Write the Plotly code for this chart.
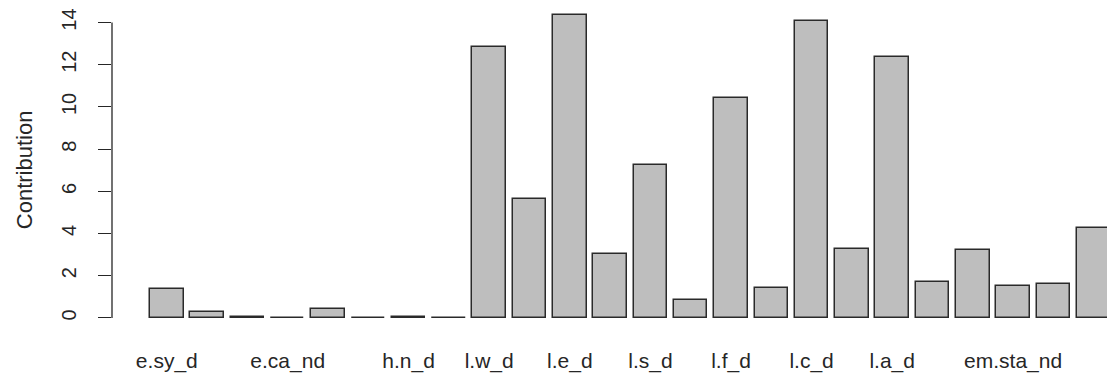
import plotly.graph_objects as go

# Contribution of each variable, in plotting order
positions = list(range(1, 25))
contribution = [1.38, 0.26, 0.06, 0.01, 0.40, 0.01, 0.06, 0.01,
                12.83, 5.62, 14.35, 3.01, 7.25, 0.84, 10.43, 1.44,
                14.08, 3.27, 12.39, 1.69, 3.21, 1.50, 1.63, 4.24]

# Names printed under the bars
label_positions = [1, 4, 7, 9, 11, 13, 15, 17, 19, 22]
label_text = ["e.sy_d", "e.ca_nd", "h.n_d", "l.w_d", "l.e_d",
              "l.s_d", "l.f_d", "l.c_d", "l.a_d", "em.sta_nd"]

y_ticks = [0, 2, 4, 6, 8, 10, 12, 14]

font_family = "Liberation Sans, Arial, sans-serif"
ink = "#262626"

fig = go.Figure(
    go.Bar(
        x=positions,
        y=contribution,
        width=0.833,
        marker=dict(color="#bebebe", line=dict(color="#2a2a2a", width=1.5)),
        hoverinfo="skip",
    )
)

fig.update_layout(
    width=1107,
    height=376,
    margin=dict(l=112, r=0, t=12, b=56, pad=0),
    paper_bgcolor="white",
    plot_bgcolor="white",
    showlegend=False,
    bargap=0,
    font=dict(family=font_family, color=ink),
    xaxis=dict(
        range=[-0.36, 24.33],
        tickmode="array",
        tickvals=label_positions,
        ticktext=label_text,
        ticks="",
        showline=False,
        showgrid=False,
        zeroline=False,
        tickfont=dict(size=21, color=ink),
        ticklabelstandoff=26,
    ),
    yaxis=dict(
        range=[-0.1, 14.5],
        tickmode="array",
        tickvals=y_ticks,
        ticktext=[str(v) for v in y_ticks],
        ticks="outside",
        ticklen=13,
        tickwidth=1.3,
        tickcolor=ink,
        tickangle=-90,
        tickfont=dict(size=20, color=ink),
        ticklabelstandoff=14,
        showline=False,
        showgrid=False,
        zeroline=False,
    ),
    shapes=[
        dict(type="line", xref="paper", yref="y", x0=0, x1=0, y0=0, y1=14,
             line=dict(color=ink, width=1.3)),
    ],
    annotations=[
        dict(text="Contribution", xref="paper", yref="y", x=0, y=7,
             xshift=-88, textangle=-90, showarrow=False,
             xanchor="center", yanchor="middle",
             font=dict(size=22, color=ink, family=font_family)),
    ],
)

fig.write_html("out.html")
